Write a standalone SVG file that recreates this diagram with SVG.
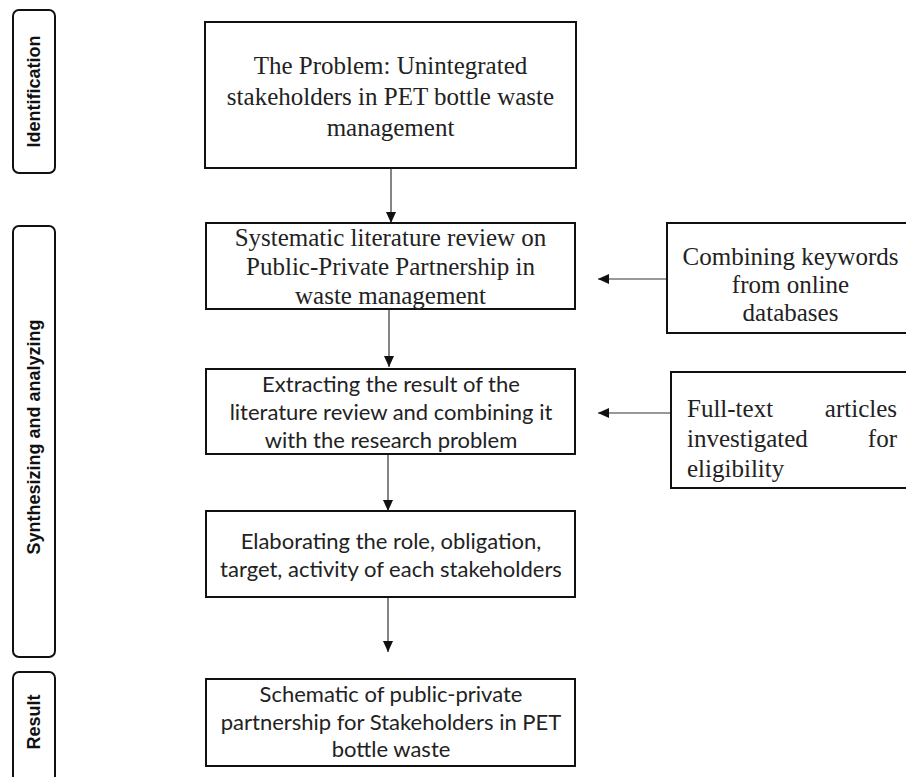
<svg xmlns="http://www.w3.org/2000/svg" width="906" height="777" viewBox="0 0 906 777">
  <style>
    .box { fill: #ffffff; stroke: #111111; stroke-width: 2; }
    .phase { fill: #ffffff; stroke: #111111; stroke-width: 2; }
    .serif { font-family: "Liberation Serif", "Times New Roman", serif; font-size: 25px; fill: #222222; }
    .sans { font-family: Lato, "Liberation Sans", sans-serif; font-size: 22px; fill: #222222; }
    .label { font-family: "Liberation Sans", Arial, sans-serif; font-size: 18px; font-weight: bold; fill: #111111; }
    .c { text-anchor: middle; }
    .link { stroke: #333333; stroke-width: 1.2; fill: none; marker-end: url(#arrow); }
  </style>
  <defs>
    <marker id="arrow" markerUnits="userSpaceOnUse" markerWidth="11" markerHeight="10" refX="11" refY="5" orient="auto">
      <path d="M0,0 L11,5 L0,10 z" fill="#111111"/>
    </marker>
  </defs>
  <rect width="906" height="777" fill="#ffffff"/>

  <!-- phase labels -->
  <g id="phase-identification">
    <rect class="phase" x="13" y="10" width="42" height="163" rx="6"/>
    <text class="label c" transform="translate(40,91.5) rotate(-90)">Identification</text>
  </g>
  <g id="phase-synthesizing">
    <rect class="phase" x="13" y="226" width="42" height="431" rx="6"/>
    <text class="label c" transform="translate(40,437) rotate(-90)">Synthesizing and analyzing</text>
  </g>
  <g id="phase-result">
    <rect class="phase" x="13" y="672" width="42" height="130" rx="6"/>
    <text class="label c" transform="translate(40,722) rotate(-90)">Result</text>
  </g>

  <!-- connectors -->
  <g id="connectors">
    <line class="link" x1="391" y1="168" x2="391" y2="223"/>
    <line class="link" x1="389" y1="309" x2="389" y2="367"/>
    <line class="link" x1="388" y1="454" x2="388" y2="511"/>
    <line class="link" x1="388" y1="597" x2="388" y2="652"/>
    <line class="link" x1="667" y1="279" x2="598" y2="279"/>
    <line class="link" x1="671" y1="413" x2="598" y2="413"/>
  </g>

  <g id="problem">
    <rect class="box" x="205" y="22" width="371" height="146"/>
    <text class="serif c" x="390.5" y="74">The Problem: Unintegrated</text>
    <text class="serif c" x="390.5" y="105">stakeholders in PET bottle waste</text>
    <text class="serif c" x="390.5" y="136">management</text>
  </g>

  <g id="literature-review">
    <rect class="box" x="206" y="223" width="369" height="86"/>
    <text class="serif c" x="390.5" y="246">Systematic literature review on</text>
    <text class="serif c" x="390.5" y="275">Public-Private Partnership in</text>
    <text class="serif c" x="390.5" y="304">waste management</text>
  </g>

  <g id="keywords">
    <rect class="box" x="667" y="223" width="250" height="110"/>
    <text class="serif c" x="790.5" y="265">Combining keywords</text>
    <text class="serif c" x="790.5" y="293">from online</text>
    <text class="serif c" x="790.5" y="321">databases</text>
  </g>

  <g id="extracting">
    <rect class="box" x="206" y="369" width="369" height="85"/>
    <text class="sans c" x="391" y="392">Extracting the result of the</text>
    <text class="sans c" x="391" y="420">literature review and combining it</text>
    <text class="sans c" x="391" y="448">with the research problem</text>
  </g>

  <g id="full-text">
    <rect class="box" x="671" y="372" width="250" height="116"/>
    <text class="serif" x="687" y="417">Full-text</text>
    <text class="serif" x="897" y="417" text-anchor="end">articles</text>
    <text class="serif" x="687" y="447">investigated</text>
    <text class="serif" x="897" y="447" text-anchor="end">for</text>
    <text class="serif" x="687" y="477">eligibility</text>
  </g>

  <g id="elaborating">
    <rect class="box" x="206" y="511" width="369" height="86"/>
    <text class="sans c" x="391" y="549">Elaborating the role, obligation,</text>
    <text class="sans c" x="391" y="577">target, activity of each stakeholders</text>
  </g>

  <g id="schematic">
    <rect class="box" x="206" y="679" width="369" height="87"/>
    <text class="sans c" x="391" y="702">Schematic of public-private</text>
    <text class="sans c" x="391" y="730">partnership for Stakeholders in PET</text>
    <text class="sans c" x="391" y="757">bottle waste</text>
  </g>
</svg>
